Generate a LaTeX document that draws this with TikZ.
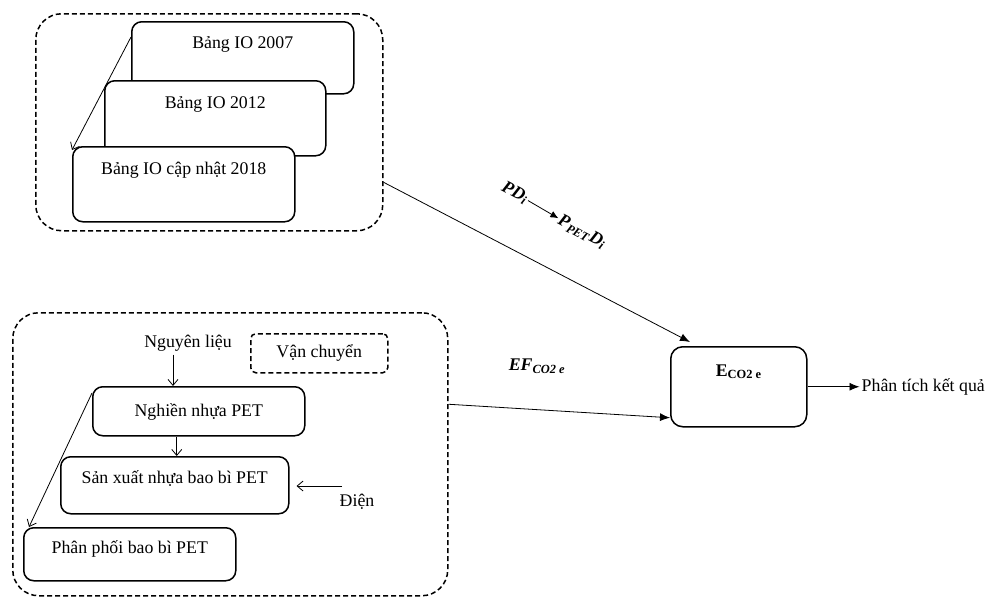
\documentclass[tikz,border=0pt]{standalone}
\usepackage{fontspec}
\setmainfont{Liberation Serif}
\usetikzlibrary{positioning, arrows.meta, calc}
\tikzset{
    group/.style={draw, dash pattern=on 5pt off 3pt, line width=1.5pt, rounded corners=26pt, anchor=north west, inner sep=0pt},
    card/.style={draw, line width=1.5pt, rounded corners=10pt, fill=white, anchor=north west, inner sep=0pt},
    cardtext/.style 2 args={label={[anchor=base, yshift=-#1]north:#2}},
    lightarrow/.style={line width=0.8pt, -{Straight Barb[length=6pt, width=10pt]}},
    heavyarrow/.style={line width=0.8pt, -{Latex[length=10pt, width=8pt]}}
}

\begin{document}
\begin{tikzpicture}[x=1pt, y=-1pt, every node/.style={font=\fontsize{17.8}{21}\selectfont}]
        \useasboundingbox (0,0) rectangle (986,597);

        \node[group, minimum width=347pt, minimum height=217pt] (iogroup) at (35,13) {};
        
        \node[card, minimum width=222pt, minimum height=72pt, cardtext={27pt}{Bảng IO 2007}] (io07) at (131,21) {};
        
        \node[card, minimum width=221pt, minimum height=75pt, cardtext={28pt}{Bảng IO 2012}] (io12) at (104,80) {};
        
        \node[card, minimum width=222pt, minimum height=75pt, cardtext={28pt}{Bảng IO cập nhật 2018}] (io18) at (72,146) {};
        
        \node[group, minimum width=435pt, minimum height=283pt] (petgroup) at (12,312) {};
        
        \node (nl) at (188,343) {Nguyên liệu};
        
        \node[draw, dash pattern=on 5pt off 3pt, line width=1.5pt, rounded corners=5pt, minimum width=137pt, minimum height=39pt, anchor=north west] (vc) at (250,333) {Vận chuyển};
        
        \node[card, minimum width=212pt, minimum height=49pt, cardtext={30pt}{Nghiền nhựa PET}] (nghien) at (92,386) {};
        
        \node[card, minimum width=228pt, minimum height=57pt, cardtext={27pt}{Sản xuất nhựa bao bì PET}] (sx) at (60,456) {};
        
        \node (dien) at (357,502) {Điện};
        \coordinate (dienin) at (342,486);
        
        \node[card, minimum width=212pt, minimum height=53pt, cardtext={26pt}{Phân phối bao bì PET}] (pp) at (23,527) {};
        
        \node[card, rounded corners=12pt, minimum width=136pt, minimum height=80pt, cardtext={30pt}{\textbf{E\textsubscript{CO2 e}}}] (eco2) at (670,346) {};
        
        \node[right=52pt of eco2, inner sep=2pt] (res) {Phân tích kết quả};
        
        \node[rotate=-28, inner sep=1pt] (pd) at (515,193) {\textbf{\textit{PD}\textsubscript{\textit{i}}}};
        
        \node[rotate=-28, inner sep=1pt] (ppet) at (582,232) {\textbf{\textit{P}\textsubscript{\textit{PET}}\textit{D}\textsubscript{\textit{i}}}};
        
        \node (ef) at (537,366) {\textbf{\textit{EF}\textsubscript{\textit{CO2 e}}}};
        
        \draw[lightarrow] ([yshift=-16pt]io07.north west) -- ([yshift=-4pt]io18.north west);
        \draw[lightarrow] ([xshift=-15pt]nl.south) -- ([xshift=-15pt]nl.south |- nghien.north);
        \draw[lightarrow] ([xshift=-22pt]nghien.south) -- ([xshift=-22pt]nghien.south |- sx.north);
        \draw[lightarrow] (dienin) -- ($(dienin -| sx.east)+(7,0)$);
        \draw[lightarrow] ([yshift=-7pt]nghien.north west) -- ([xshift=6pt]pp.north west);
        \draw[heavyarrow] ([yshift=-60pt]iogroup.east) -- ([shift={(20pt,4pt)}]eco2.north west);
        \draw[heavyarrow] ([yshift=50pt]petgroup.east) -- ([yshift=-31pt]eco2.west);
        \draw[heavyarrow] (eco2) -- (res);
        \draw[line width=0.8pt, -{Latex[length=8pt, width=7pt]}] (pd) -- (ppet);
    \end{tikzpicture}
\end{document}
